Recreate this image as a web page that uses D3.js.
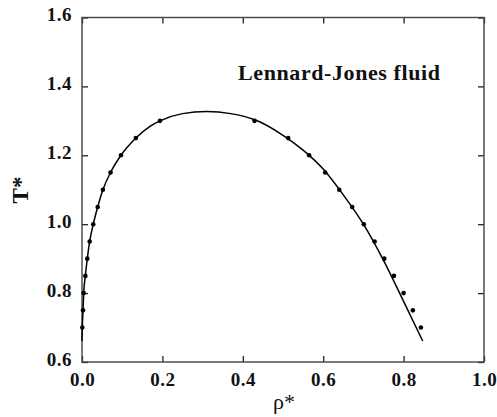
<!DOCTYPE html>
<html><head><meta charset="utf-8">
<script src="https://cdn.jsdelivr.net/npm/d3@7"></script>
<style>body{margin:0;background:#fff}svg{display:block}</style>
</head><body>
<script>
const curveRho = [0, 0.0008, 0.0025, 0.0042, 0.0083, 0.0132, 0.0191, 0.028, 0.039, 0.052, 0.071, 0.097, 0.134, 0.17, 0.194, 0.25, 0.31, 0.37, 0.43, 0.5, 0.55, 0.6, 0.65, 0.7, 0.75, 0.8, 0.8475];
const curveT   = [0.66, 0.70, 0.75, 0.80, 0.85, 0.90, 0.95, 1.00, 1.05, 1.10, 1.15, 1.20, 1.25, 1.285, 1.30, 1.321, 1.327, 1.321, 1.303, 1.258, 1.215, 1.16, 1.085, 1.00, 0.895, 0.776, 0.661];
const pointRho = [0.0008, 0.0025, 0.0042, 0.0083, 0.0132, 0.0191, 0.028, 0.039, 0.052, 0.071, 0.097, 0.134, 0.194, 0.429, 0.513, 0.565, 0.605, 0.640, 0.672, 0.701, 0.728, 0.752, 0.776, 0.800, 0.823, 0.843];
const pointT   = [0.70, 0.75, 0.80, 0.85, 0.90, 0.95, 1.00, 1.05, 1.10, 1.15, 1.20, 1.25, 1.30, 1.30, 1.25, 1.20, 1.15, 1.10, 1.05, 1.00, 0.95, 0.90, 0.85, 0.80, 0.75, 0.70];
const xTicks = [0.0, 0.2, 0.4, 0.6, 0.8, 1.0];
const yTicks = [0.6, 0.8, 1.0, 1.2, 1.4, 1.6];
const xLabel = "ρ*", yLabel = "T*", title = "Lennard-Jones fluid";

const W = 497, H = 417;
const m = {l: 82, r: 13, t: 17.5, b: 55};
const svg = d3.select("body").append("svg").attr("width", W).attr("height", H);
const x = d3.scaleLinear().domain([0, 1]).range([m.l, W - m.r]);
const y = d3.scaleLinear().domain([0.6, 1.6]).range([H - m.b, m.t]);
const font = "'Liberation Serif', 'Times New Roman', serif";
const fmt = d3.format(".1f");

function styleAxis(g){
  g.select(".domain").remove();
  g.selectAll(".tick line").attr("stroke", "#222").attr("stroke-width", 1.3);
  g.selectAll(".tick text").attr("font-family", font).attr("font-weight", "bold").attr("font-size", 19)
    .attr("letter-spacing", "0.5px").attr("fill", "#111");
}
svg.append("g").attr("transform", `translate(0,${y(0.6)})`)
  .call(d3.axisBottom(x).tickValues(xTicks).tickFormat(fmt).tickSizeInner(-6).tickSizeOuter(0).tickPadding(11))
  .call(styleAxis);
svg.append("g").attr("transform", `translate(0,${y(1.6)})`)
  .call(d3.axisTop(x).tickValues(xTicks).tickFormat("").tickSizeInner(-6).tickSizeOuter(0))
  .call(styleAxis);
svg.append("g").attr("transform", `translate(${x(0)},0)`)
  .call(d3.axisLeft(y).tickValues(yTicks).tickFormat(fmt).tickSizeInner(-6).tickSizeOuter(0).tickPadding(10))
  .call(styleAxis)
  .selectAll(".tick text").attr("dy", "0.18em");
svg.append("g").attr("transform", `translate(${x(1)},0)`)
  .call(d3.axisRight(y).tickValues(yTicks).tickFormat("").tickSizeInner(-6).tickSizeOuter(0))
  .call(styleAxis);

svg.append("rect").attr("x", x(0)).attr("y", y(1.6)).attr("width", x(1) - x(0)).attr("height", y(0.6) - y(1.6))
  .attr("fill", "none").attr("stroke", "#444").attr("stroke-width", 1.4);

const line = d3.line().x(d => x(d[0])).y(d => y(d[1])).curve(d3.curveMonotoneX);
svg.append("path").datum(curveRho.map((r, i) => [r, curveT[i]]))
  .attr("d", line).attr("fill", "none").attr("stroke", "#000").attr("stroke-width", 1.5);

svg.append("g").selectAll("circle").data(pointRho.map((r, i) => [r, pointT[i]])).join("circle")
  .attr("cx", d => x(d[0])).attr("cy", d => y(d[1])).attr("r", 2.3).attr("fill", "#000");

svg.append("text").attr("x", 238).attr("y", 80).attr("font-family", font).attr("font-weight", "bold")
  .attr("font-size", 22).attr("textLength", 202).attr("lengthAdjust", "spacing").attr("fill", "#111").text(title);

svg.append("text").attr("x", (x(0) + x(1)) / 2 + 1).attr("y", 409).attr("text-anchor", "middle")
  .attr("font-family", font).attr("font-size", 22).attr("fill", "#111").text(xLabel);

svg.append("text").attr("transform", `translate(28,190) rotate(-90)`).attr("text-anchor", "middle")
  .attr("font-family", font).attr("font-weight", "bold").attr("font-size", 23).attr("fill", "#111").text(yLabel);
</script>
</body></html>
